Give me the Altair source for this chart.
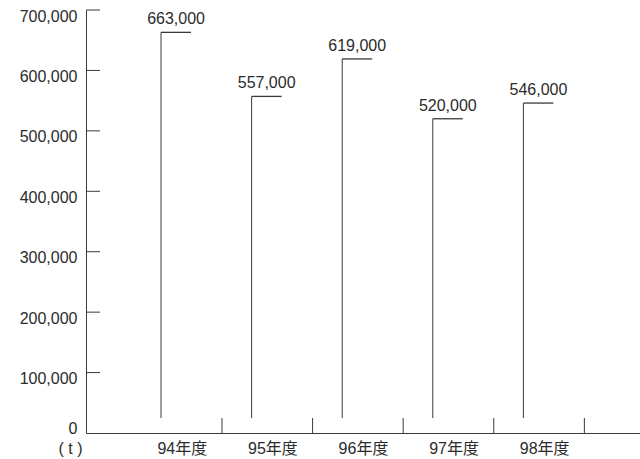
import altair as alt
import pandas as pd

# Annual tonnage by fiscal year
years = ["94年度", "95年度", "96年度", "97年度", "98年度"]
tonnes = [663000, 557000, 619000, 520000, 546000]
y_ticks = [0, 100000, 200000, 300000, 400000, 500000, 600000, 700000]

FONT = "Liberation Sans, Noto Sans CJK JP, sans-serif"
INK = "#2b2b2b"
LINE = "#3a3a3a"
FS = 16

W, H = 554, 423
STEM_BASE = H - 15  # stems and separators stop just above the baseline

df = pd.DataFrame({"year": years, "t": tonnes})
df["i"] = range(len(df))
df["cap_end"] = df["i"] + 0.331
df["mid"] = df["i"] + 0.166
df["name_x"] = df["i"] + 0.235
df["sep"] = df["i"] + 0.673

x_scale = alt.Scale(domain=[-0.828, 5.287], nice=False, zero=False)
y_scale = alt.Scale(domain=[0, 700000], nice=False, zero=True)

x_axis = alt.Axis(
    ticks=False, labels=False, title=None, grid=False,
    domainColor=LINE, domainWidth=1,
)
y_axis = alt.Axis(
    values=y_ticks, format=",d", grid=False,
    ticks=False, tickSize=0, labelPadding=9,
    labelFont=FONT, labelFontSize=FS, labelColor=INK,
    labelOffset={"condition": {"test": "datum.value === 0", "value": -5}, "value": 6},
    domainColor=LINE, domainWidth=1,
    title="( t )", titleAngle=0, titleX=-16, titleY=438,
    titleAlign="center", titleBaseline="middle",
    titleFont=FONT, titleFontSize=FS, titleFontWeight="normal", titleColor=INK,
)


def xq(field):
    return alt.X(field, scale=x_scale, axis=x_axis)


def yq(field):
    return alt.Y(field, scale=y_scale, axis=y_axis)


base = alt.Chart(df)

stems = base.mark_rule(color=LINE, strokeWidth=1).encode(
    x=xq("i:Q"),
    y=yq("t:Q"),
    y2=alt.value(STEM_BASE),
)

caps = base.mark_rule(color=LINE, strokeWidth=1.3).encode(
    x=xq("i:Q"),
    x2="cap_end:Q",
    y=yq("t:Q"),
)

values = base.mark_text(
    font=FONT, fontSize=FS, color=INK, baseline="alphabetic", dy=-8
).encode(
    x=xq("mid:Q"),
    y=yq("t:Q"),
    text=alt.Text("t:Q", format=",d"),
)

separators = base.mark_rule(color=LINE, strokeWidth=1).encode(
    x=xq("sep:Q"),
    y=alt.value(STEM_BASE),
    y2=alt.value(H),
)

names = base.mark_text(
    font=FONT, fontSize=FS, color=INK, baseline="middle", align="center"
).encode(
    x=xq("name_x:Q"),
    y=alt.value(H + 16),
    text="year:N",
)

y_tick_marks = alt.Chart(pd.DataFrame({"v": y_ticks[1:]})).mark_rule(
    color=LINE, strokeWidth=1
).encode(
    x=alt.value(0),
    x2=alt.value(14),
    y=yq("v:Q"),
)

chart = (
    alt.layer(stems, caps, values, separators, names, y_tick_marks)
    .properties(
        width=W,
        height=H,
        autosize=alt.AutoSizeParams(type="none"),
        padding={"left": 86, "top": 10, "right": 0, "bottom": 26},
        background="white",
    )
    .configure_view(stroke=None)
)

chart.save("out.html", embed_options={"renderer": "svg", "actions": False})
